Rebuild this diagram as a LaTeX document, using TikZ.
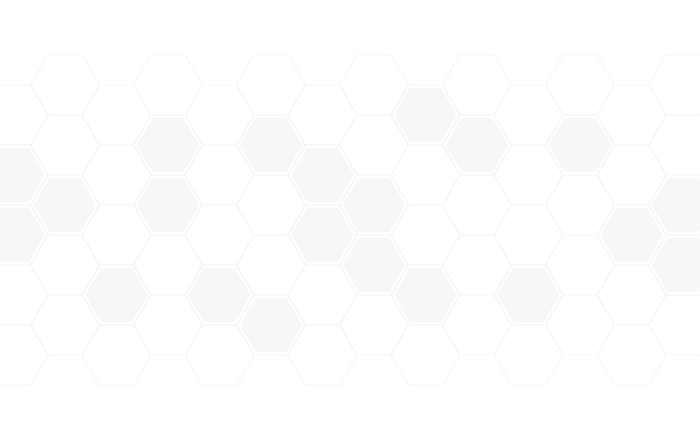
\documentclass[tikz,border=0pt]{standalone}
\usepackage{tikz}
\usetikzlibrary{shapes.geometric}
\definecolor{cellfill}{gray}{0.968}
\definecolor{cellline}{gray}{0.955}
\tikzstyle{cell} = [regular polygon, regular polygon sides=6, minimum size=69.2pt, inner sep=0pt, draw=cellline, line width=0.8pt]
\tikzstyle{blob} = [regular polygon, regular polygon sides=6, minimum size=62pt, inner sep=0pt, fill=cellfill]

\begin{document}
\begin{tikzpicture}[x=1pt, y=-1pt]
   \useasboundingbox (0,0) rectangle (700,441);
   \foreach \x [count=\i] in {-38,65,168,271,374,477,580,683,786}
      \foreach \y [count=\j] in {85,145,205,265,325}
         \node (e\i\j) [cell] at (\x,\y) {};
   \foreach \x [count=\i] in {13.5,116.5,219.5,322.5,425.5,528.5,631.5,734.5}
      \foreach \y [count=\j] in {115,175,235,295,355}
         \node (o\i\j) [cell] at (\x,\y) {};
   \foreach \x/\y [count=\k] in {13.5/175, 13.5/235, 65/205, 168/145, 168/205, 271/145, 322.5/175, 322.5/235, 116.5/295, 219.5/295, 271/325, 425.5/115, 477/145, 580/145, 374/205, 683/205, 631.5/235, 374/265, 425.5/295, 528.5/295, 683/265}
      \node (b\k) [blob] at (\x,\y) {};
\end{tikzpicture}
\end{document}
